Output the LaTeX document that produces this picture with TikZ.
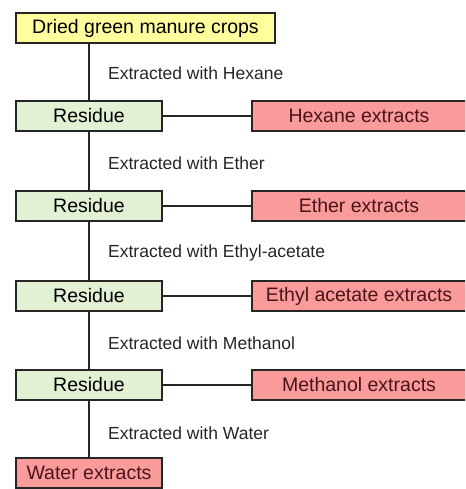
\documentclass[tikz,border=0pt]{standalone}
\usepackage{fontspec}
\setmainfont{Liberation Sans}
\usepackage{xcolor}
\usepackage{tikz}

\definecolor{cropyellow}{RGB}{255,255,155}
\definecolor{resgreen}{RGB}{226,240,212}
\definecolor{extpink}{RGB}{250,155,155}
\definecolor{extred}{RGB}{75,20,25}

\tikzset{
  box/.style={draw=black!85, line width=2pt, minimum height=30pt, inner sep=0pt,
    font=\fontsize{19.5}{22}\selectfont},
  residue/.style={box, fill=resgreen, minimum width=146pt},
  extract/.style={box, fill=extpink, text=extred, minimum width=214pt},
  steplabel/.style={anchor=west, inner sep=0pt, text=black!85,
    font=\fontsize{17.5}{20}\selectfont},
  link/.style={draw=black!85, line width=2pt}
}

\begin{document}
\begin{tikzpicture}[x=1pt, y=-1pt]
  \useasboundingbox (0,0) rectangle (465,489);
  \clip (0,0) rectangle (465,489);
  \fill[white] (0,0) rectangle (465,489);

  % start material
  \node[box, fill=cropyellow, minimum width=259pt] (crops) at (145.5, 28) {Dried green manure crops};

  % residues
  \node[residue] (R1) at (89, 116) {Residue};
  \node[residue] (R2) at (89, 206) {Residue};
  \node[residue] (R3) at (89, 296) {Residue};
  \node[residue] (R4) at (89, 385) {Residue};
  \node[box, fill=extpink, text=extred, minimum width=146pt] (W) at (89, 473) {Water extracts};

  % extracts
  \node[extract] (E1) at (359, 116) {Hexane extracts};
  \node[extract] (E2) at (359, 206) {Ether extracts};
  \node[extract] (E3) at (359, 296) {Ethyl acetate extracts};
  \node[extract] (E4) at (359, 385) {Methanol extracts};

  % solvent labels
  \node[steplabel] (L1) at (108, 73) {Extracted with Hexane};
  \node[steplabel] (L2) at (108, 163) {Extracted with Ether};
  \node[steplabel] (L3) at (108, 253) {Extracted with Ethyl-acetate};
  \node[steplabel] (L4) at (108, 343) {Extracted with Methanol};
  \node[steplabel] (L5) at (108, 433) {Extracted with Water};

  % connectors
  \draw[link] (R1.north) -- (R1.north |- crops.south);
  \draw[link] (R1) -- (R2);
  \draw[link] (R2) -- (R3);
  \draw[link] (R3) -- (R4);
  \draw[link] (R4) -- (W);
  \draw[link] (R1) -- (E1);
  \draw[link] (R2) -- (E2);
  \draw[link] (R3) -- (E3);
  \draw[link] (R4) -- (E4);
\end{tikzpicture}
\end{document}
